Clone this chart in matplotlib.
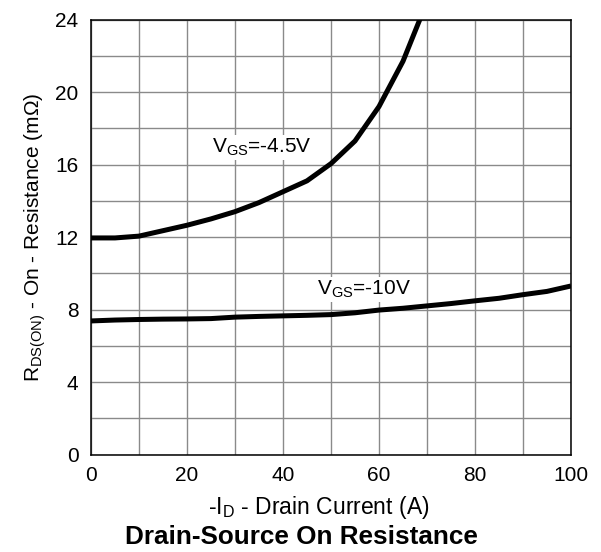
import numpy as np
import matplotlib.pyplot as plt

plt.rcParams['font.family'] = ['Liberation Sans', 'DejaVu Sans']
plt.rcParams['mathtext.fontset'] = 'custom'
plt.rcParams['mathtext.rm'] = 'Liberation Sans'
plt.rcParams['mathtext.it'] = 'Liberation Sans'

# drain current (A) and on-resistance (mOhm)
id_45 = [0, 5, 10, 15, 20, 25, 30, 35, 40, 45, 50, 55, 60, 65, 68.5, 70]
r_45 = [11.95, 11.95, 12.05, 12.35, 12.65, 13.0, 13.4, 13.9, 14.5, 15.1,
        16.05, 17.3, 19.2, 21.7, 24.0, 25.1]

id_10 = [0, 5, 10, 15, 20, 25, 30, 35, 40, 45, 50, 55, 60, 65, 70, 75,
         80, 85, 90, 95, 100]
r_10 = [7.37, 7.42, 7.45, 7.47, 7.48, 7.5, 7.58, 7.62, 7.65, 7.68, 7.72,
        7.82, 7.97, 8.07, 8.2, 8.33, 8.48, 8.62, 8.82, 9.0, 9.3]

x_ticks = [0, 20, 40, 60, 80, 100]
y_ticks = [0, 4, 8, 12, 16, 20, 24]

fig = plt.figure(figsize=(6.01, 5.52), dpi=100)
ax = fig.add_axes([0.1514, 0.1766, 0.7987, 0.788])

ax.plot(id_45, r_45, color='black', lw=3.6, solid_capstyle='butt', zorder=3)
ax.plot(id_10, r_10, color='black', lw=3.6, solid_capstyle='butt', zorder=3)

ax.set_xlim(0, 100)
ax.set_ylim(0, 24)
ax.set_xticks(x_ticks)
ax.set_yticks(y_ticks)
ax.set_xticks(np.arange(0, 101, 10), minor=True)
ax.set_yticks(np.arange(0, 25, 2), minor=True)
ax.grid(True, which='both', color='#8a8a8a', lw=1.0)
ax.set_axisbelow(True)
ax.tick_params(which='both', length=0)
ax.tick_params(axis='x', labelsize=15, pad=8)
ax.tick_params(axis='y', labelsize=15, pad=9)
for s in ax.spines.values():
    s.set_linewidth(1.1)

box = dict(facecolor='white', edgecolor='none', pad=1.5)
ax.text(25.3, 16.95, r'V$_{\mathregular{GS}}$=-4.5V', fontsize=15,
        va='center', ha='left', bbox=box, zorder=4)
ax.text(47, 9.1, r'V$_{\mathregular{GS}}$=-10V', fontsize=15,
        va='center', ha='left', bbox=box, zorder=4)

ax.set_xlabel(r'-I$_{\mathregular{D}}$ - Drain Current (A)', fontsize=16.5)
ax.xaxis.set_label_coords(0.475, -0.09)
ax.set_ylabel(r'R$_{\mathregular{DS(ON)}}$ - On - Resistance (m$\Omega$)',
              fontsize=15)
ax.yaxis.set_label_coords(-0.09, 0.5)
fig.text(0.502, 0.027, 'Drain-Source On Resistance', fontsize=18.8,
         fontweight='bold', ha='center', va='center')

fig.savefig('out.png', dpi=100)
